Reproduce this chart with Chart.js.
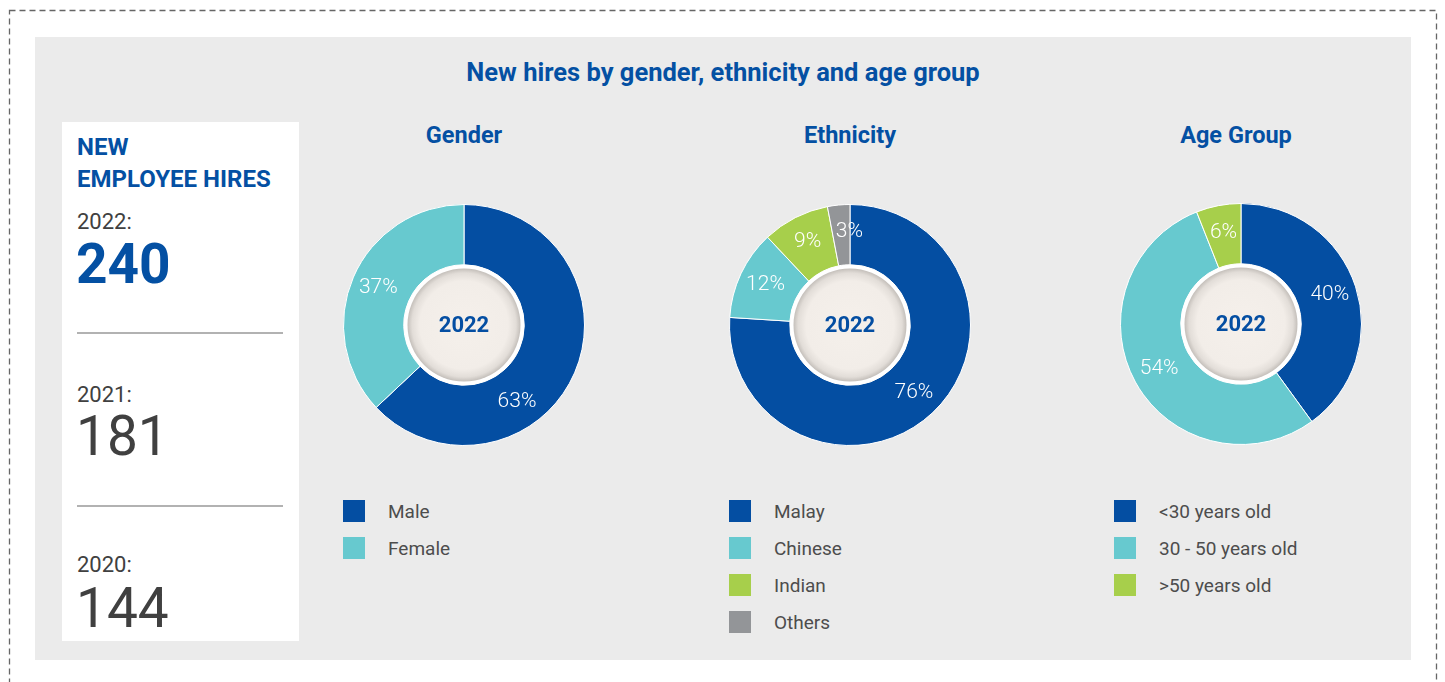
<!DOCTYPE html>
<html>
<head>
<meta charset="utf-8">
<script src="https://cdn.jsdelivr.net/npm/chart.js@4.4.0/dist/chart.umd.min.js"></script>
<style>
  body { margin: 0; width: 1445px; height: 682px; background: #fff; font-family: Roboto, "Open Sans", sans-serif; position: relative; overflow: hidden; }
  .frame { position: absolute; left: 0; top: 0; }
  .panel { position: absolute; left: 35px; top: 37px; width: 1376px; height: 623px; background: #ebebeb; }
  .box { position: absolute; left: 62px; top: 122px; width: 237px; height: 519px; background: #fff; }
  .t { position: absolute; line-height: 1; white-space: nowrap; }
  .big { line-height: 0.8; font-size: 55px; }
  .blue { color: #0450a3; }
  .grey { color: #404040; }
  .rule { position: absolute; left: 77px; width: 206px; height: 0; border-top: 2px solid #b2b2b2; }
  .title { left: 35px; width: 1376px; text-align: center; top: 60px; font-size: 25.5px; font-weight: 700; }
  .head { width: 242px; text-align: center; top: 124px; font-size: 23.5px; font-weight: 700; }
  .chartbox { position: absolute; width: 242px; height: 242px; }
  .legend { position: absolute; top: 500px; }
  .legend .row { height: 37px; position: relative; }
  .legend .sw { position: absolute; left: 0; top: 0; width: 22px; height: 22px; }
  .legend .lb { position: absolute; left: 45px; top: 1px; font-size: 19px; line-height: 22px; color: #4d4d4d; white-space: nowrap; }
</style>
</head>
<body>
<svg class="frame" width="1445" height="682">
  <rect x="9.5" y="10.5" width="1427" height="700" fill="none" stroke="#666" stroke-width="1.3" stroke-dasharray="6 4"/>
</svg>
<div class="panel"></div>
<div class="box"></div>

<div class="t blue title">New hires by gender, ethnicity and age group</div>

<div class="t blue" style="left:77px; top:135px; font-size:24px; font-weight:700;">NEW</div>
<div class="t blue" style="left:77px; top:167px; font-size:24px; font-weight:700;">EMPLOYEE HIRES</div>
<div class="t grey" id="y0" style="left:77px; top:211px; font-size:22px;"></div>
<div class="t big blue" id="v0" style="left:76px; top:242px; font-weight:700;"></div>
<div class="rule" style="top:332px;"></div>
<div class="t grey" id="y1" style="left:77px; top:384px; font-size:22px;"></div>
<div class="t big grey" id="v1" style="left:76px; top:414px;"></div>
<div class="rule" style="top:505px;"></div>
<div class="t grey" id="y2" style="left:77px; top:554px; font-size:22px;"></div>
<div class="t big grey" id="v2" style="left:76px; top:586px;"></div>

<div class="t blue head" style="left:343px;">Gender</div>
<div class="t blue head" style="left:729px;">Ethnicity</div>
<div class="t blue head" style="left:1115px;">Age Group</div>

<div class="chartbox" style="left:343px; top:204px;"><canvas id="genderChart" width="242" height="242"></canvas></div>
<div class="chartbox" style="left:729px; top:204px;"><canvas id="ethnicChart" width="242" height="242"></canvas></div>
<div class="chartbox" style="left:1120px; top:203px;"><canvas id="ageChart" width="242" height="242"></canvas></div>

<div class="legend" id="genderLegend" style="left:343px;"></div>
<div class="legend" id="ethnicLegend" style="left:729px;"></div>
<div class="legend" id="ageLegend" style="left:1114px;"></div>

<script>
// totales de contrataciones por año
const hireYears = ["2022", "2021", "2020"];
const hireTotals = [240, 181, 144];

// datos de cada dona (porcentajes)
const genderLabels = ["Male", "Female"];
const genderValues = [63, 37];

const ethnicLabels = ["Malay", "Chinese", "Indian", "Others"];
const ethnicValues = [76, 12, 9, 3];

const ageLabels = ["<30 years old", "30 - 50 years old", ">50 years old"];
const ageValues = [40, 54, 6];

const centerYear = "2022";

const azul = "#044ea2";
const turquesa = "#67c9cf";
const verde = "#a7cf4b";
const gris = "#939598";

hireYears.forEach((y, i) => {
  document.getElementById("y" + i).textContent = y + ":";
  document.getElementById("v" + i).textContent = hireTotals[i];
});

// circulo central + etiquetas de porcentaje
const donaExtras = {
  id: "donaExtras",
  afterDatasetsDraw(chart, args, opts) {
    const ctx = chart.ctx;
    const meta = chart.getDatasetMeta(0);
    const arcs = meta.data;
    const cx = arcs[0].x;
    const cy = arcs[0].y;
    const giros = opts.giros || {};

    ctx.save();
    ctx.font = "300 21px Roboto, sans-serif";
    ctx.fillStyle = "#ffffff";
    ctx.textAlign = "center";
    ctx.textBaseline = "middle";
    arcs.forEach((arc, i) => {
      const p = arc.getProps(["startAngle", "endAngle", "innerRadius", "outerRadius"]);
      const ang = (p.startAngle + p.endAngle) / 2 + (giros[i] || 0) * Math.PI / 180;
      const r = p.innerRadius + (p.outerRadius - p.innerRadius) * 0.55;
      ctx.fillText(chart.data.datasets[0].data[i] + "%", cx + Math.cos(ang) * r, cy + Math.sin(ang) * r);
    });

    // anillo blanco
    ctx.beginPath();
    ctx.arc(cx, cy, 60, 0, Math.PI * 2);
    ctx.fillStyle = "#ffffff";
    ctx.fill();

    const g = ctx.createRadialGradient(cx, cy, 0, cx, cy, 56.5);
    g.addColorStop(0, "#f5f0eb");
    g.addColorStop(0.78, "#f2ede8");
    g.addColorStop(0.92, "#e2ddd8");
    g.addColorStop(1, "#c4bfba");
    ctx.beginPath();
    ctx.arc(cx, cy, 56.5, 0, Math.PI * 2);
    ctx.fillStyle = g;
    ctx.fill();

    ctx.font = "bold 22px Roboto, sans-serif";
    ctx.fillStyle = azul;
    ctx.fillText(centerYear, cx, cy + 1);
    ctx.restore();
  },
};

function dona(id, labels, values, colors, giros) {
  const ctx = document.getElementById(id).getContext("2d");
  return new Chart(ctx, {
    type: "doughnut",
    data: {
      labels: labels,
      datasets: [
        {
          data: values,
          backgroundColor: colors,
          borderColor: "#ffffff",
          borderWidth: 1,
        },
      ],
    },
    options: {
      responsive: false,
      animation: false,
      cutout: "50%",
      layout: { padding: 0 },
      plugins: {
        legend: { display: false },
        tooltip: { enabled: false },
        donaExtras: { giros: giros },
      },
    },
    plugins: [donaExtras],
  });
}

function leyenda(id, labels, colors) {
  const el = document.getElementById(id);
  labels.forEach((l, i) => {
    const row = document.createElement("div");
    row.className = "row";
    const sw = document.createElement("div");
    sw.className = "sw";
    sw.style.background = colors[i];
    const lb = document.createElement("div");
    lb.className = "lb";
    lb.textContent = l;
    row.appendChild(sw);
    row.appendChild(lb);
    el.appendChild(row);
  });
}

const genderColors = [azul, turquesa];
const ethnicColors = [azul, turquesa, verde, gris];
const ageColors = [azul, turquesa, verde];

// el 63% va mas abajo en el original
dona("genderChart", genderLabels, genderValues, genderColors, { 0: 32 });
dona("ethnicChart", ethnicLabels, ethnicValues, ethnicColors, { 3: 5 });
dona("ageChart", ageLabels, ageValues, ageColors, {});

leyenda("genderLegend", genderLabels, genderColors);
leyenda("ethnicLegend", ethnicLabels, ethnicColors);
leyenda("ageLegend", ageLabels, ageColors);
</script>
</body>
</html>
